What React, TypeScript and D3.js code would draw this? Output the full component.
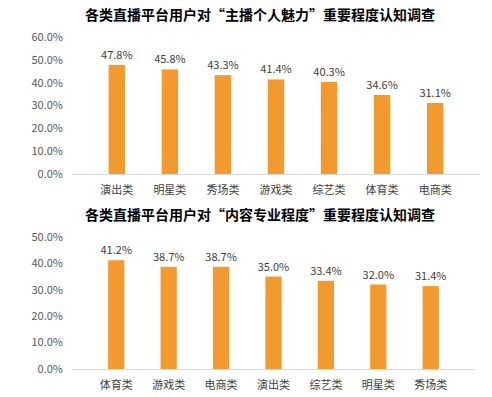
import React, { useEffect, useRef } from "react";
import * as d3 from "d3";

const title1 = "各类直播平台用户对“主播个人魅力”重要程度认知调查";
const cats1 = ["演出类", "明星类", "秀场类", "游戏类", "综艺类", "体育类", "电商类"];
const vals1 = [47.8, 45.8, 43.3, 41.4, 40.3, 34.6, 31.1];
const ticks1 = [0, 10, 20, 30, 40, 50, 60];

const title2 = "各类直播平台用户对“内容专业程度”重要程度认知调查";
const cats2 = ["体育类", "游戏类", "电商类", "演出类", "综艺类", "明星类", "秀场类"];
const vals2 = [41.2, 38.7, 38.7, 35.0, 33.4, 32.0, 31.4];
const ticks2 = [0, 10, 20, 30, 40, 50];

const FONT = "'Noto Sans CJK SC', 'Noto Sans', sans-serif";
const BAR = "#F39A2E";

type Panel = {
  title: string;
  cats: string[];
  vals: number[];
  ticks: number[];
  top: number; // offset
  titleY: number;
  yTop: number;
  yBottom: number;
  xLeft: number;
  xRight: number;
};

const panels: Panel[] = [
  { title: title1, cats: cats1, vals: vals1, ticks: ticks1, top: 0, titleY: 20, yTop: 37, yBottom: 174, xLeft: 72, xRight: 480 },
  { title: title2, cats: cats2, vals: vals2, ticks: ticks2, top: 200, titleY: 20, yTop: 37, yBottom: 169, xLeft: 72, xRight: 475 },
];

const App = () => {
  const svgRef = useRef<SVGSVGElement | null>(null);

  useEffect(() => {
    const svg = d3.select(svgRef.current);
    svg.selectAll("*").remove();

    panels.forEach((p) => {
      const g = svg.append("g").attr("transform", `translate(0,${p.top})`);

      const x = d3.scaleBand().domain(p.cats).range([p.xLeft, p.xRight]).padding(0.69);
      const y = d3
        .scaleLinear()
        .domain([0, d3.max(p.ticks)!])
        .range([p.yBottom, p.yTop]);

      // title
      g.append("text")
        .attr("x", 260)
        .attr("y", p.titleY)
        .attr("text-anchor", "middle")
        .attr("font-family", FONT)
        .attr("font-size", "14px")
        .attr("font-weight", "bold")
        .attr("fill", "#000")
        .text(p.title);

      // y tick labels
      g.append("g")
        .selectAll("text")
        .data(p.ticks)
        .join("text")
        .attr("x", 63)
        .attr("y", (d) => y(d))
        .attr("dy", "0.35em")
        .attr("text-anchor", "end")
        .attr("font-family", FONT)
        .attr("font-size", "11px")
        .attr("fill", "#595959")
        .text((d) => `${d.toFixed(1)}%`);

      // bars
      g.append("g")
        .selectAll("rect")
        .data(p.vals)
        .join("rect")
        .attr("x", (_, i) => x(p.cats[i])!)
        .attr("y", (d) => y(d))
        .attr("width", x.bandwidth())
        .attr("height", (d) => y(0) - y(d))
        .attr("fill", BAR);

      // baseline
      g.append("line")
        .attr("x1", p.xLeft)
        .attr("x2", p.xRight)
        .attr("y1", y(0) + 0.5)
        .attr("y2", y(0) + 0.5)
        .attr("stroke", "#D9D9D9")
        .attr("stroke-width", 1);

      // value labels
      g.append("g")
        .selectAll("text")
        .data(p.vals)
        .join("text")
        .attr("x", (_, i) => x(p.cats[i])! + x.bandwidth() / 2)
        .attr("y", (d) => y(d) - 6)
        .attr("text-anchor", "middle")
        .attr("font-family", FONT)
        .attr("font-size", "11px")
        .attr("fill", "#404040")
        .text((d) => `${d.toFixed(1)}%`);

      // category labels
      g.append("g")
        .selectAll("text")
        .data(p.cats)
        .join("text")
        .attr("x", (d) => x(d)! + x.bandwidth() / 2)
        .attr("y", y(0) + 20)
        .attr("text-anchor", "middle")
        .attr("font-family", FONT)
        .attr("font-size", "11px")
        .attr("fill", "#404040")
        .text((d) => d);
    });
  }, []);

  return (
    <svg
      ref={svgRef}
      width={492}
      height={397}
      style={{ position: "absolute", left: 0, top: 0, background: "#fff" }}
    />
  );
};

export default App;
